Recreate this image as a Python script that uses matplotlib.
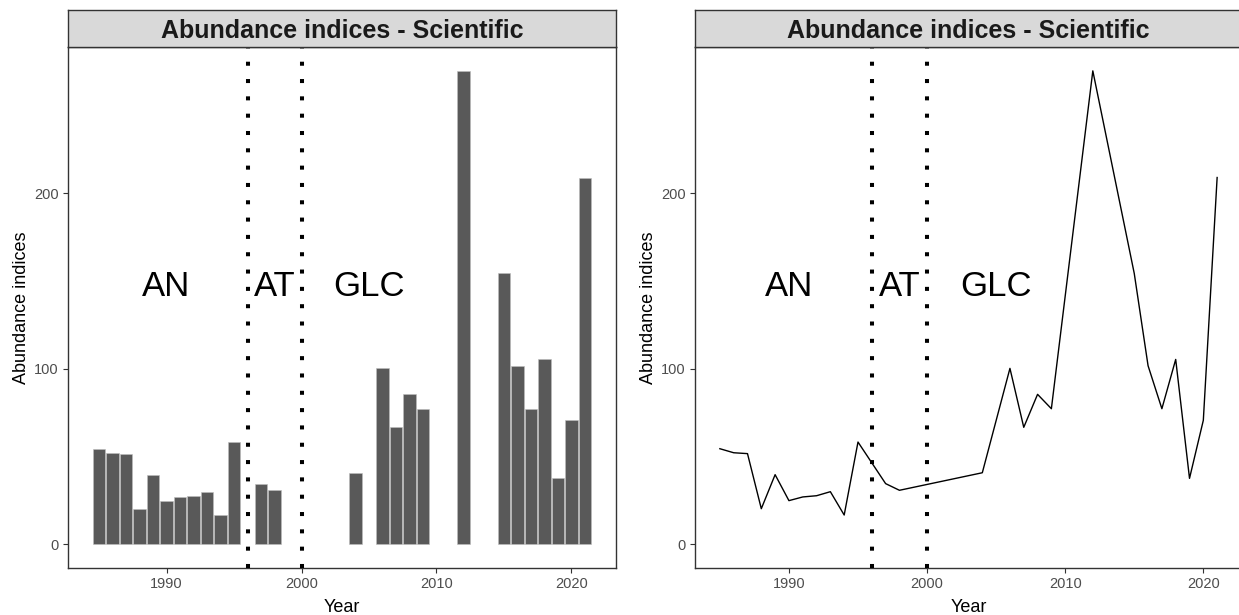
import matplotlib
matplotlib.use("Agg")
import matplotlib.pyplot as plt

plt.rcParams['font.family'] = ['Liberation Sans', 'DejaVu Sans']

years = [1985, 1986, 1987, 1988, 1989, 1990, 1991, 1992, 1993, 1994, 1995,
         1997, 1998, 2004, 2006, 2007, 2008, 2009, 2012,
         2015, 2016, 2017, 2018, 2019, 2020, 2021]
indices = [54.5, 52.2, 51.7, 20.3, 39.7, 24.9, 27.0, 27.7, 30.0, 16.7, 58.3,
           34.6, 30.8, 40.8, 100.3, 66.7, 85.5, 77.3, 269.9,
           154.4, 101.8, 77.3, 105.4, 37.6, 70.7, 209.1]

period_breaks = [1996, 2000]
period_labels = ["AN", "AT", "GLC"]
period_label_x = [1990, 1998, 2005]
period_label_y = 147

title = "Abundance indices - Scientific"
xticks = [1990, 2000, 2010, 2020]
yticks = [0, 100, 200]

W, H = 1239, 615
fig = plt.figure(figsize=(W / 100, H / 100), dpi=100)

def fx(px):
    return px / W

def fy(py):
    return 1 - py / H

panels = [
    dict(left=68, right=616, xlim=(1982.7, 2023.3), kind="bar"),
    dict(left=695, right=1242, xlim=(1983.2, 2022.8), kind="line"),
]
top, bottom, strip_top = 47, 568, 10
ylim = (-13.5, 283.5)

for p in panels:
    ax = fig.add_axes([fx(p["left"]), fy(bottom), fx(p["right"] - p["left"]), fy(top) - fy(bottom)])
    if p["kind"] == "bar":
        ax.bar(years, indices, width=0.9, color="#595959", edgecolor="#BDBDBD", linewidth=0.4, zorder=2)
    else:
        ax.plot(years, indices, color="black", lw=1.0, zorder=2)
    for b in period_breaks:
        ax.axvline(b, color="black", lw=2.9, linestyle=(0, (1, 3.3)), zorder=3)
    for lab, x in zip(period_labels, period_label_x):
        ax.text(x, period_label_y, lab, fontsize=25, ha="center", va="center", color="black", zorder=4)
    ax.set_xlim(*p["xlim"])
    ax.set_ylim(*ylim)
    ax.set_xticks(xticks)
    ax.set_yticks(yticks)
    ax.tick_params(axis="both", colors="#333333", labelcolor="#4D4D4D", labelsize=10.5, length=3.5, width=0.8, pad=3)
    for s in ax.spines.values():
        s.set_color("#333333")
        s.set_linewidth(1.0)
    ax.set_xlabel("Year", fontsize=13, labelpad=6)
    ax.set_ylabel("Abundance indices", fontsize=13, labelpad=3)

    # facet strip
    sax = fig.add_axes([fx(p["left"]), fy(top), fx(p["right"] - p["left"]), fy(strip_top) - fy(top)])
    sax.set_xlim(0, 1)
    sax.set_ylim(0, 1)
    sax.set_facecolor("#D9D9D9")
    sax.set_xticks([])
    sax.set_yticks([])
    for s in sax.spines.values():
        s.set_color("#333333")
        s.set_linewidth(1.0)
    sax.text(0.5, 0.42, title, ha="center", va="center", fontsize=18, fontweight="bold", color="#1A1A1A")

fig.savefig("out.png", dpi=100)
